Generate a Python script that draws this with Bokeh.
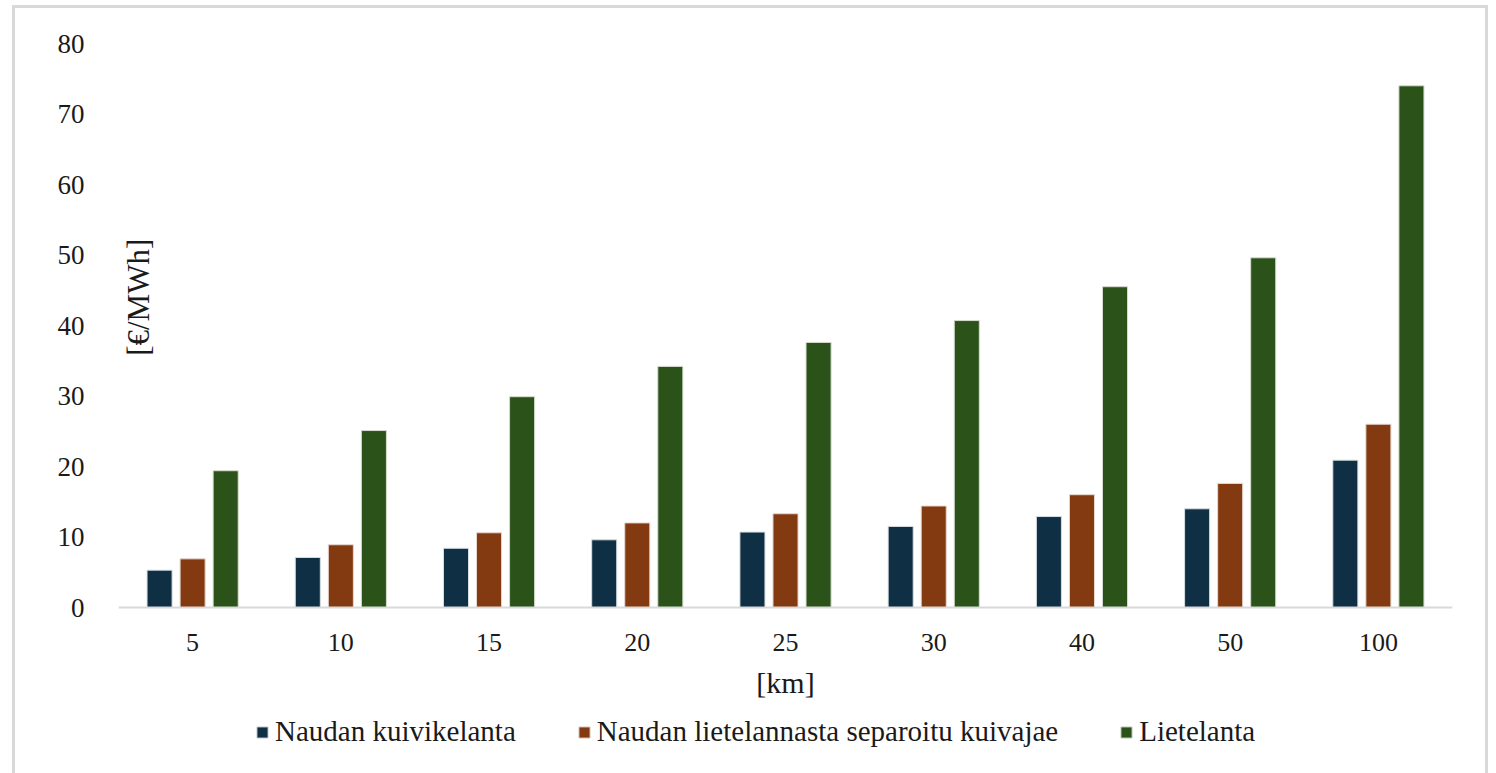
import math
from bokeh.plotting import figure
from bokeh.models import ColumnDataSource, FactorRange, Label, Legend, LegendItem
from bokeh.transform import dodge
from bokeh.embed import file_html
from bokeh.resources import INLINE

distances = ["5", "10", "15", "20", "25", "30", "40", "50", "100"]
kuivikelanta = [5.3, 7.1, 8.4, 9.6, 10.7, 11.5, 12.9, 14.0, 20.9]
kuivajae = [6.9, 8.9, 10.6, 12.0, 13.3, 14.4, 16.0, 17.6, 26.0]
lietelanta = [19.4, 25.1, 29.9, 34.2, 37.6, 40.7, 45.5, 49.6, 74.0]

series_names = ["Naudan kuivikelanta", "Naudan lietelannasta separoitu kuivajae", "Lietelanta"]
colors = ["#0f2f44", "#843a11", "#2a5219"]

FONT = "Liberation Serif"
TXT = "#1a1a1a"

src = ColumnDataSource(dict(x=distances, a=kuivikelanta, b=kuivajae, c=lietelanta))

# frame extends below zero so the legend can sit inside it; axis drawn at y = 0
p = figure(x_range=FactorRange(*distances, range_padding=0), y_range=(-22.41, 80),
           frame_width=1334, frame_height=722,
           output_backend="svg", toolbar_location=None,
           min_border_left=103, min_border_right=33, min_border_top=35, min_border_bottom=25)

p.styles = {"border": "3px solid #d9d9d9", "margin": "5px 0px 0px 12px"}

w = 0.169
off = 0.223
r1 = p.vbar(x=dodge("x", -off, range=p.x_range), top="a", width=w, source=src,
            fill_color=colors[0], line_color="#d8dde0", line_width=1)
r2 = p.vbar(x=dodge("x", 0, range=p.x_range), top="b", width=w, source=src,
            fill_color=colors[1], line_color="#e6d8cf", line_width=1)
r3 = p.vbar(x=dodge("x", off, range=p.x_range), top="c", width=w, source=src,
            fill_color=colors[2], line_color="#d5dccf", line_width=1)

p.xgrid.grid_line_color = None
p.ygrid.grid_line_color = None
p.outline_line_color = None

p.yaxis.ticker = list(range(0, 81, 10))
p.yaxis.axis_line_color = None
p.yaxis.major_tick_line_color = None
p.yaxis.minor_tick_line_color = None
p.yaxis.major_label_standoff = 28
p.yaxis.major_label_text_font = FONT
p.yaxis.major_label_text_font_size = "27px"
p.yaxis.major_label_text_color = TXT

p.xaxis.fixed_location = 0
p.xaxis.axis_line_color = "#d9d9d9"
p.xaxis.axis_line_width = 2
p.xaxis.major_tick_line_color = None
p.xaxis.minor_tick_line_color = None
p.xaxis.major_label_standoff = 20
p.xaxis.major_label_text_font = FONT
p.xaxis.major_label_text_font_size = "26px"
p.xaxis.major_label_text_color = TXT
p.xaxis.axis_label = "[km]"
p.xaxis.axis_label_text_font = FONT
p.xaxis.axis_label_text_font_size = "30px"
p.xaxis.axis_label_text_font_style = "normal"
p.xaxis.axis_label_text_color = TXT
p.xaxis.axis_label_standoff = 12

ylab = Label(x=0.136, y=44.0, text="[€/MWh]", angle=math.pi / 2,
             text_align="center", text_baseline="middle",
             text_font=FONT, text_font_size="31px", text_color=TXT)
p.add_layout(ylab)

legend = Legend(items=[LegendItem(label=series_names[0], renderers=[r1]),
                       LegendItem(label=series_names[1], renderers=[r2]),
                       LegendItem(label=series_names[2], renderers=[r3])],
                orientation="horizontal", location=(137, 17),
                label_text_font=FONT, label_text_font_size="29px", label_text_color=TXT,
                glyph_width=14, glyph_height=14, label_standoff=6, spacing=61,
                border_line_color=None, background_fill_alpha=0, margin=0, padding=0)
p.add_layout(legend, "center")

open("out.html", "w").write(file_html(p, INLINE))
